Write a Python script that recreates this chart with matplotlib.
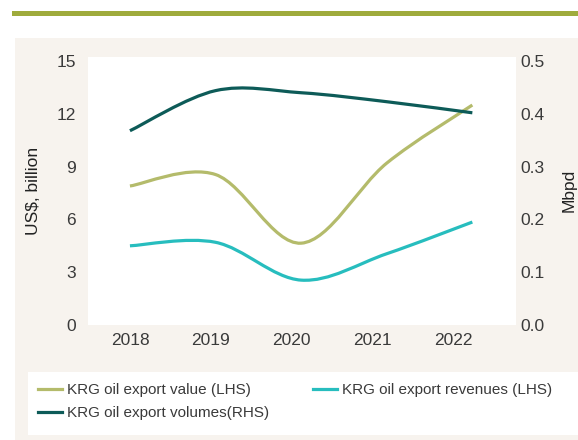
import matplotlib
matplotlib.use("Agg")
import matplotlib.pyplot as plt
import numpy as np
from matplotlib.path import Path
from matplotlib.patches import PathPatch, Rectangle
from matplotlib.lines import Line2D

plt.rcParams['font.family'] = ['Liberation Sans', 'DejaVu Sans']

years = ['2018', '2019', '2020', '2021', '2022']
export_value = [7.9, 8.55, 4.65, 9.2, 12.5]        # US$ bn, LHS
export_revenues = [4.5, 4.7, 2.55, 4.05, 5.85]     # US$ bn, LHS
export_volumes = [0.368, 0.444, 0.44, 0.423, 0.402]  # Mbpd, RHS

labels = ['KRG oil export value (LHS)', 'KRG oil export revenues (LHS)',
          'KRG oil export volumes(RHS)']
c_value = '#B4BB6B'
c_rev = '#27BDBE'
c_vol = '#0D5B58'
txt = '#3A3A3A'


def smooth_path(xs, ys):
    # excel-like smoothed line: cubic bezier through every point
    pts = np.column_stack([xs, ys]).astype(float)
    verts = [pts[0]]
    codes = [Path.MOVETO]
    n = len(pts)
    for i in range(n - 1):
        p0 = pts[i - 1] if i > 0 else pts[i]
        p1 = pts[i]
        p2 = pts[i + 1]
        p3 = pts[i + 2] if i + 2 < n else pts[i + 1]
        verts += [p1 + (p2 - p0) / 6, p2 - (p3 - p1) / 6, p2]
        codes += [Path.CURVE4] * 3
    return Path(verts, codes)


W, H = 578, 440
fig = plt.figure(figsize=(W / 100, H / 100), dpi=100)
fig.patch.set_facecolor('white')

# header bar and panel backgrounds
fig.add_artist(Rectangle((12 / W, 1 - 16.5 / H), 1, 5.5 / H, transform=fig.transFigure,
                         facecolor='#9FAB3C', edgecolor='none', zorder=0))
fig.add_artist(Rectangle((15 / W, 0), 1, 1 - 38 / H, transform=fig.transFigure,
                         facecolor='#F7F3EE', edgecolor='none', zorder=0))
fig.add_artist(Rectangle((28 / W, 1 - 435 / H), 1, 63 / H, transform=fig.transFigure,
                         facecolor='white', edgecolor='none', zorder=0))

ax = fig.add_axes([88 / W, 1 - 325 / H, (516 - 88) / W, (325 - 57) / H])
ax.set_facecolor('white')
ax2 = ax.twinx()

x = np.arange(len(years))
ax.add_patch(PathPatch(smooth_path(x, export_value), facecolor='none',
                       edgecolor=c_value, lw=2.3, capstyle='butt'))
ax.add_patch(PathPatch(smooth_path(x, export_revenues), facecolor='none',
                       edgecolor=c_rev, lw=2.3, capstyle='butt'))
ax2.add_patch(PathPatch(smooth_path(x, export_volumes), facecolor='none',
                        edgecolor=c_vol, lw=2.3, capstyle='butt'))

ax.set_xlim(-0.49, 4.51)
ax.set_ylim(0, 15.23)
ax2.set_ylim(0, 0.5077)
ax.set_yticks(np.arange(0, 16, 3))
ax2.set_yticks(np.arange(0, 0.51, 0.1))
ax2.set_yticklabels([f'{v:.1f}' for v in np.arange(0, 0.51, 0.1)])
ax.set_xticks(x * 0.945)
ax.set_xticklabels(years)

for a in (ax, ax2):
    for s in a.spines.values():
        s.set_visible(False)
ax.tick_params(axis='x', length=0, pad=6, labelsize=12.5, labelcolor=txt)
ax.tick_params(axis='y', length=0, pad=8.5, labelsize=12.5, labelcolor=txt)
ax2.tick_params(axis='y', length=0, pad=3.5, labelsize=12.5, labelcolor=txt)

ax.set_ylabel('US$, billion', fontsize=12.5, color='#222222', labelpad=11)
fig.text(569 / W, 1 - 190 / H, 'Mbpd', rotation=90, ha='center', va='center',
         fontsize=12.5, color='#222222')

handles = [Line2D([], [], color=c, lw=2.3) for c in (c_value, c_rev, c_vol)]
order = [0, 2, 1]
fig.legend([handles[i] for i in order], [labels[i] for i in order], ncol=2,
           loc='upper left', bbox_to_anchor=(38 / W, 1 - 383 / H), frameon=False,
           fontsize=11, handlelength=1.55, handletextpad=0.35, columnspacing=2.9,
           labelspacing=0.6, borderpad=0, borderaxespad=0, labelcolor=txt)

fig.savefig('out.png', dpi=100)
